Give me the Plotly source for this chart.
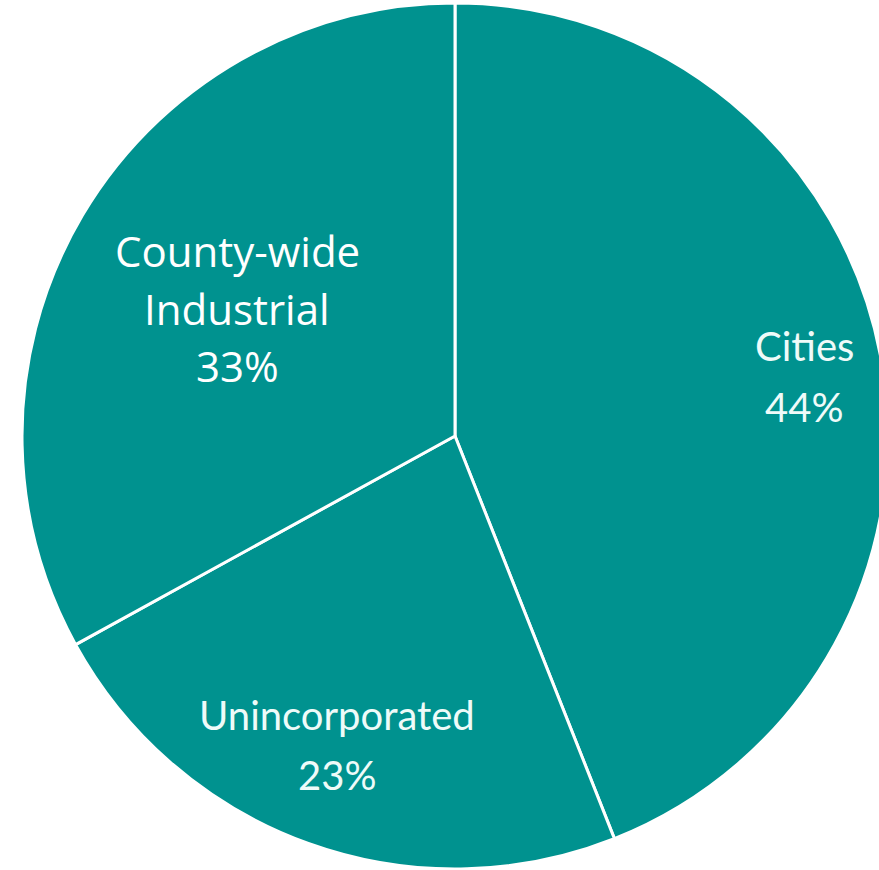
import plotly.graph_objects as go

# Share of the total by area type
categories = ["Cities", "Unincorporated", "County-wide Industrial"]
values = [44, 23, 33]
label_lines = [["Cities"], ["Unincorporated"], ["County-wide", "Industrial"]]

TEAL = "#00928F"

FIG_W, FIG_H = 890, 870
MARGIN_L, MARGIN_T = 22, 3
PLOT = 866  # square plot area holding the pie


def to_paper(px, py):
    """Convert page pixels to paper coordinates of the plot area."""
    return (px - MARGIN_L) / PLOT, 1 - (py - MARGIN_T) / PLOT


fig = go.Figure(
    go.Pie(
        labels=categories,
        values=values,
        sort=False,
        direction="clockwise",
        rotation=0,
        marker=dict(colors=[TEAL] * len(values), line=dict(color="white", width=3)),
        textinfo="none",
        hoverinfo="label+percent",
        showlegend=False,
    )
)

# label styling and placement (x centre, y centre of first line, line step)
label_style = {
    "Cities": dict(pos=(804, 346, 61), family="Lato", size=40, color="#eefbf9"),
    "Unincorporated": dict(pos=(337, 715, 60), family="Lato", size=40, color="#eefbf9"),
    "County-wide Industrial": dict(pos=(237, 251, 57.5), family="Open Sans", size=42, color="white"),
}

annotations = []
for cat, val, lines in zip(categories, values, label_lines):
    st = label_style[cat]
    cx, cy, step = st["pos"]
    for i, line in enumerate(lines + [f"{val}%"]):
        x, y = to_paper(cx, cy + i * step)
        annotations.append(
            dict(
                x=x, y=y, xref="paper", yref="paper",
                text=line, showarrow=False,
                xanchor="center", yanchor="middle",
                font=dict(family=st["family"], size=st["size"], color=st["color"]),
            )
        )

fig.update_layout(
    width=FIG_W,
    height=FIG_H,
    margin=dict(l=MARGIN_L, r=FIG_W - MARGIN_L - PLOT, t=MARGIN_T, b=FIG_H - MARGIN_T - PLOT, pad=0),
    paper_bgcolor="white",
    plot_bgcolor="white",
    annotations=annotations,
)

fig.write_html(
    "out.html",
    post_script="document.documentElement.style.overflow='hidden';document.body.style.overflow='hidden';document.body.style.margin='0';",
)
